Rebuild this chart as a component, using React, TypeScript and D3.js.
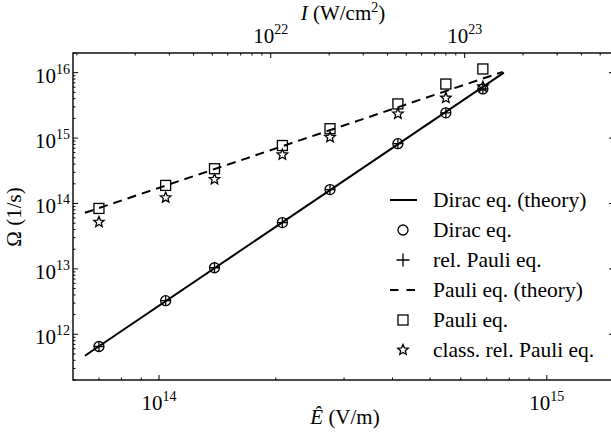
import React from 'react';
import * as d3 from 'd3';

// ---- data ----
const fieldE = [7.0e13, 1.04e14, 1.39e14, 2.08e14, 2.76e14, 4.13e14, 5.49e14, 6.84e14];
const diracOmega = [6.5e11, 3.26e12, 1.04e13, 5.1e13, 1.63e14, 8.2e14, 2.43e15, 5.65e15];
const relPauliOmega = [6.5e11, 3.26e12, 1.04e13, 5.1e13, 1.63e14, 8.2e14, 2.43e15, 5.65e15];
const pauliOmega = [8.4e13, 1.89e14, 3.4e14, 7.7e14, 1.39e15, 3.33e15, 6.7e15, 1.14e16];
const classRelPauliOmega = [5.2e13, 1.23e14, 2.34e14, 5.56e14, 1.03e15, 2.35e15, 4.1e15, 6.1e15];

const diracTheoryE = [6.44e13, 7.75e14];
const diracTheoryOmega = [4.7e11, 1.0e16];
const pauliTheoryE = [6.44e13, 7.7e14];
const pauliTheoryOmega = [7.2e13, 1.03e16];

const xMajorTicks = [1e14, 1e15];
const xMinorTicks = [7e13, 8e13, 9e13, 2e14, 3e14, 4e14, 5e14, 6e14, 7e14, 8e14, 9e14];
const topMajorTicks = [1e22, 1e23];
const topMinorTicks = [1e21, 2e21, 3e21, 4e21, 5e21, 6e21, 7e21, 8e21, 9e21,
  2e22, 3e22, 4e22, 5e22, 6e22, 7e22, 8e22, 9e22, 2e23, 3e23, 4e23, 5e23];
const yMajorTicks = [1e12, 1e13, 1e14, 1e15, 1e16];
const yMinorTicks: number[] = [];
[1e11, 1e12, 1e13, 1e14, 1e15].forEach((d) => {
  [2, 3, 4, 5, 6, 7, 8, 9].forEach((m) => yMinorTicks.push(m * d));
});
yMinorTicks.push(2e16);

const legendLabels = [
  'Dirac eq. (theory)',
  'Dirac eq.',
  'rel. Pauli eq.',
  'Pauli eq. (theory)',
  'Pauli eq.',
  'class. rel. Pauli eq.',
];

// intensity I (W/cm^2) = c * eps0 * E^2
const intensityPerFieldSq = 2.654e-7;

const FONT = "'Times New Roman', Times, 'Liberation Serif', Tinos, 'Noto Serif', 'DejaVu Serif', serif";

const L = 73, R = 614, T = 53, B = 380;
const xDomain: [number, number] = [6e13, 1.49e15];
const x = d3.scaleLog().domain(xDomain).range([L, R]);
const xTop = d3.scaleLog()
  .domain([intensityPerFieldSq * xDomain[0] ** 2, intensityPerFieldSq * xDomain[1] ** 2])
  .range([L, R]);
const y = d3.scaleLog().domain([2e11, 2e16]).range([B, T]);

function starPath(cx: number, cy: number, ro: number, ri: number) {
  const pts: [number, number][] = [];
  for (let i = 0; i < 10; i++) {
    const a = -Math.PI / 2 + (i * Math.PI) / 5;
    const r = i % 2 === 0 ? ro : ri;
    pts.push([cx + r * Math.cos(a), cy + r * Math.sin(a)]);
  }
  return 'M' + pts.map((p) => p.join(',')).join('L') + 'Z';
}

const Circle = ({ cx, cy, r = 5 }: any) => (
  <circle cx={cx} cy={cy} r={r} fill="none" stroke="#000" strokeWidth={1.3} />
);
const Plus = ({ cx, cy, a = 5 }: any) => (
  <path d={`M${cx - a},${cy}H${cx + a}M${cx},${cy - a}V${cy + a}`} stroke="#000" strokeWidth={1.3} />
);
const Square = ({ cx, cy, s = 10 }: any) => (
  <rect x={cx - s / 2} y={cy - s / 2} width={s} height={s} fill="none" stroke="#000" strokeWidth={1.3} />
);
const Star = ({ cx, cy, r = 5.5 }: any) => (
  <path d={starPath(cx, cy, r, r * 0.45)} fill="none" stroke="#000" strokeWidth={1.3} strokeLinejoin="miter" />
);

const txtStyle = { fontFamily: FONT } as React.CSSProperties;

const Pow10 = ({ x: tx, y: ty, exp, anchor }: any) => (
  <text x={tx} y={ty} textAnchor={anchor} style={txtStyle} fontSize={21} fill="#000">
    10<tspan dy={-9} fontSize={14}>{exp}</tspan>
  </text>
);

export default function App() {
  const line = d3.line<[number, number]>().x((d) => x(d[0])).y((d) => y(d[1]));
  const diracTheory = line(diracTheoryE.map((e, i) => [e, diracTheoryOmega[i]] as [number, number]));
  const pauliTheory = line(pauliTheoryE.map((e, i) => [e, pauliTheoryOmega[i]] as [number, number]));
  const majorLen = 5, minorLen = 2.5;

  return (
    <svg width={611} height={444} style={{ position: 'absolute', left: 0, top: 0, background: '#fff', fontFamily: FONT }}>
      <rect x={0} y={0} width={611} height={444} fill="#fff" />
      {/* ticks */}
      <g stroke="#000" strokeWidth={1}>
        {xMajorTicks.map((t) => (
          <line key={'xb' + t} x1={x(t)} x2={x(t)} y1={B} y2={B - majorLen} />
        ))}
        {xMinorTicks.map((t) => (
          <line key={'xbm' + t} x1={x(t)} x2={x(t)} y1={B} y2={B - minorLen} />
        ))}
        {topMajorTicks.map((t) => (
          <line key={'xt' + t} x1={xTop(t)} x2={xTop(t)} y1={T} y2={T + majorLen} />
        ))}
        {topMinorTicks.map((t) => (
          <line key={'xtm' + t} x1={xTop(t)} x2={xTop(t)} y1={T} y2={T + minorLen} />
        ))}
        {yMajorTicks.map((t) => (
          <g key={'y' + t}>
            <line x1={L} x2={L + majorLen} y1={y(t)} y2={y(t)} />
            <line x1={R} x2={R - majorLen} y1={y(t)} y2={y(t)} />
          </g>
        ))}
        {yMinorTicks.map((t) => (
          <g key={'ym' + t}>
            <line x1={L} x2={L + minorLen} y1={y(t)} y2={y(t)} />
            <line x1={R} x2={R - minorLen} y1={y(t)} y2={y(t)} />
          </g>
        ))}
      </g>
      {/* frame */}
      <rect x={L} y={T} width={R - L} height={B - T} fill="none" stroke="#000" strokeWidth={1.4} />

      {/* tick labels */}
      {xMajorTicks.map((t) => (
        <Pow10 key={'lx' + t} x={x(t)} y={410} exp={Math.round(Math.log10(t))} anchor="middle" />
      ))}
      {topMajorTicks.map((t) => (
        <Pow10 key={'lt' + t} x={xTop(t)} y={43} exp={Math.round(Math.log10(t))} anchor="middle" />
      ))}
      {yMajorTicks.map((t) => (
        <Pow10 key={'ly' + t} x={70} y={y(t) + 10} exp={Math.round(Math.log10(t))} anchor="end" />
      ))}

      {/* axis titles */}
      <text x={345} y={424} textAnchor="middle" style={txtStyle} fontSize={21}>
        <tspan fontStyle="italic">Ê</tspan> (V/m)
      </text>
      <text x={343} y={20} textAnchor="middle" style={txtStyle} fontSize={21}>
        <tspan fontStyle="italic">I</tspan> (W/cm<tspan dy={-8} fontSize={14}>2</tspan><tspan dy={8}>)</tspan>
      </text>
      <text transform="translate(21,217) rotate(-90)" textAnchor="middle" style={txtStyle} fontSize={21}>
        Ω (1/s)
      </text>

      {/* theory lines */}
      <path d={diracTheory || ''} fill="none" stroke="#000" strokeWidth={2} />
      <path d={pauliTheory || ''} fill="none" stroke="#000" strokeWidth={2} strokeDasharray="9,6" />

      {/* markers */}
      {fieldE.map((e, i) => (
        <g key={'m' + i}>
          <Circle cx={x(e)} cy={y(diracOmega[i])} />
          <Plus cx={x(e)} cy={y(relPauliOmega[i])} />
          <Square cx={x(e)} cy={y(pauliOmega[i])} />
          <Star cx={x(e)} cy={y(classRelPauliOmega[i])} />
        </g>
      ))}

      {/* legend */}
      {legendLabels.map((lab, i) => {
        const cy = 200 + 30 * i;
        const cx = 403;
        let sym: any = null;
        if (i === 0) sym = <line x1={390} x2={417} y1={cy} y2={cy} stroke="#000" strokeWidth={2} />;
        if (i === 1) sym = <Circle cx={cx} cy={cy} r={5} />;
        if (i === 2) sym = <Plus cx={cx} cy={cy} a={6.5} />;
        if (i === 3) sym = <line x1={390} x2={415} y1={cy} y2={cy} stroke="#000" strokeWidth={2} strokeDasharray="8.5,8" />;
        if (i === 4) sym = <Square cx={cx} cy={cy} s={10} />;
        if (i === 5) sym = <Star cx={cx} cy={cy} r={5.5} />;
        return (
          <g key={'lg' + i}>
            {sym}
            <text x={433} y={cy + 7} style={txtStyle} fontSize={21.5}>{lab}</text>
          </g>
        );
      })}
    </svg>
  );
}
